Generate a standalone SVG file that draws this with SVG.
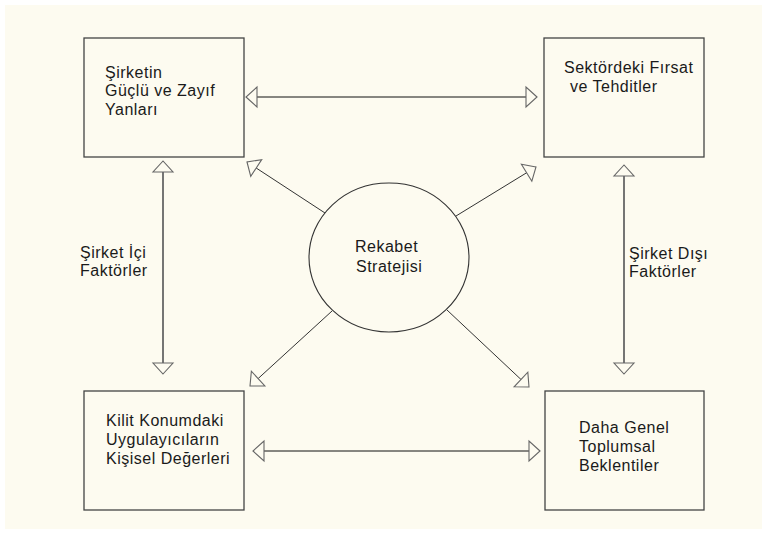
<svg xmlns="http://www.w3.org/2000/svg" width="767" height="534" viewBox="0 0 767 534">
<style>
.t{font-family:"Liberation Sans",Arial,sans-serif;font-size:16px;letter-spacing:0.5px;fill:#1a1a1a}
.box{fill:#fdfbf0;stroke:#444;stroke-width:1.3}
.h{stroke:#111;stroke-width:1;fill:none}
.v{stroke:#666;stroke-width:1.8;fill:none}
.d{stroke:#333;stroke-width:1;fill:none}
</style>
<defs>
<marker id="ah" markerUnits="userSpaceOnUse" markerWidth="14" markerHeight="24" viewBox="-12 -11 14 22" refX="0" refY="0" orient="auto-start-reverse">
<path d="M0,0 L-11,-10 L-11,10 Z" fill="#fdfbf0" stroke="#666" stroke-width="1.1" stroke-linejoin="miter"/>
</marker>
</defs>
<rect x="0" y="0" width="767" height="534" fill="#ffffff"/>
<rect x="5" y="5" width="757" height="524" fill="#fdfbf0"/>
<g id="connectors">
<line class="h" x1="246" y1="97" x2="537" y2="97" marker-start="url(#ah)" marker-end="url(#ah)"/>
<line class="h" x1="253" y1="451" x2="540" y2="451" marker-start="url(#ah)" marker-end="url(#ah)"/>
<line class="v" x1="163" y1="161" x2="163" y2="374" marker-start="url(#ah)" marker-end="url(#ah)"/>
<line class="v" x1="624" y1="165" x2="624" y2="374" marker-start="url(#ah)" marker-end="url(#ah)"/>
<line class="d" x1="325" y1="213" x2="247" y2="162" marker-end="url(#ah)"/>
<line class="d" x1="456" y1="216" x2="536" y2="167" marker-end="url(#ah)"/>
<line class="d" x1="332" y1="311" x2="250" y2="386" marker-end="url(#ah)"/>
<line class="d" x1="447" y1="310" x2="529" y2="387" marker-end="url(#ah)"/>
</g>
<g id="n1">
<rect class="box" x="84" y="38" width="160" height="119"/>
<text class="t" x="105" y="78">Şirketin</text>
<text class="t" x="105" y="96">Güçlü ve Zayıf</text>
<text class="t" x="105" y="115">Yanları</text>
</g>
<g id="n2">
<rect class="box" x="544" y="38" width="160" height="119"/>
<text class="t" x="564" y="73">Sektördeki Fırsat</text>
<text class="t" x="570" y="92">ve Tehditler</text>
</g>
<g id="n3">
<rect class="box" x="84" y="391" width="160" height="119"/>
<text class="t" x="106" y="426">Kilit Konumdaki</text>
<text class="t" x="106" y="445">Uygulayıcıların</text>
<text class="t" x="106" y="464">Kişisel Değerleri</text>
</g>
<g id="n4">
<rect class="box" x="545" y="391" width="159" height="119"/>
<text class="t" x="579" y="433">Daha Genel</text>
<text class="t" x="579" y="452">Toplumsal</text>
<text class="t" x="579" y="471">Beklentiler</text>
</g>
<g id="center">
<ellipse cx="389" cy="257.5" rx="80" ry="74.5" fill="#fdfbf0" stroke="#333" stroke-width="1.1"/>
<text class="t" x="355" y="252">Rekabet</text>
<text class="t" x="356" y="272">Stratejisi</text>
</g>
<g id="label-left">
<text class="t" x="80" y="258">Şirket İçi</text>
<text class="t" x="80" y="276">Faktörler</text>
</g>
<g id="label-right">
<text class="t" x="629" y="259">Şirket Dışı</text>
<text class="t" x="629" y="277">Faktörler</text>
</g>
</svg>
